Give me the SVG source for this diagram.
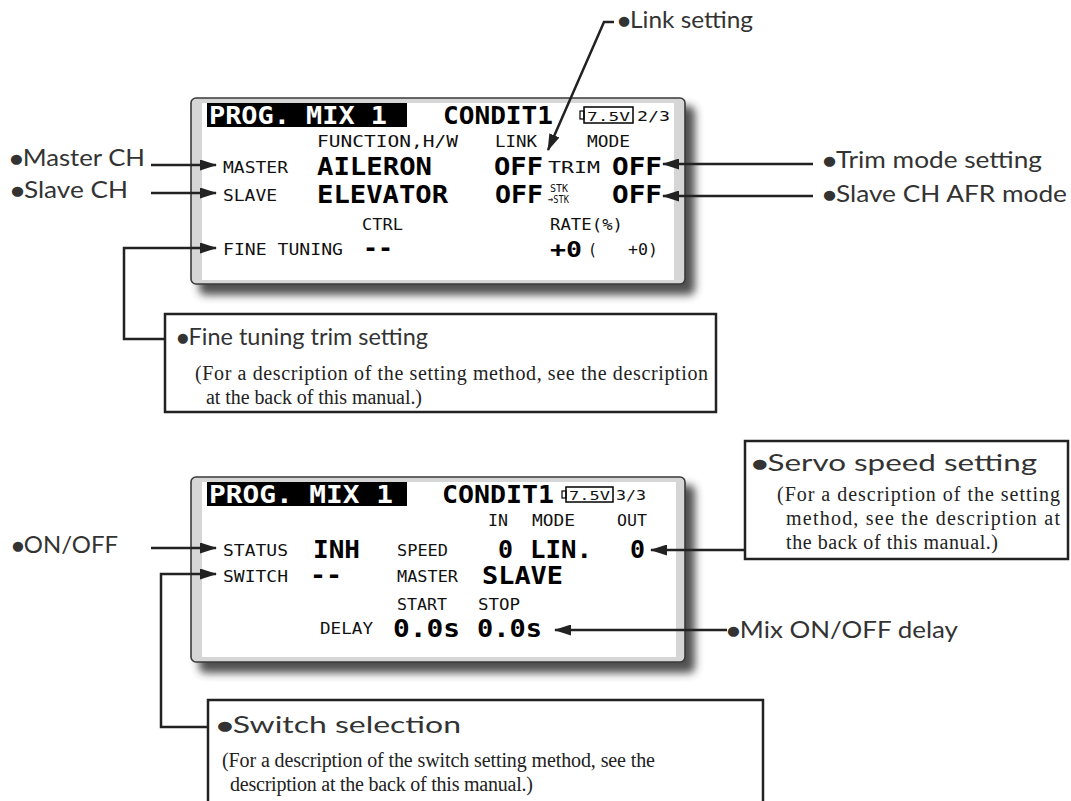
<svg xmlns="http://www.w3.org/2000/svg" width="1071" height="801" viewBox="0 0 1071 801">
<defs>
<filter id="blur" x="-10%" y="-20%" width="130%" height="150%"><feGaussianBlur stdDeviation="4"/></filter>
<marker id="ah" markerWidth="17" markerHeight="11" refX="16" refY="5.5" orient="auto" markerUnits="userSpaceOnUse"><path d="M0,0 L17,5.5 L0,11 z" fill="#222"/></marker>
<style>
.shadow{fill:#333;opacity:0.85}
.frame{fill:#d6d6d6;stroke:#3a3a3a;stroke-width:1.6}
.lcd{fill:#fff}
.s{font-family:"DejaVu Sans Mono","Liberation Mono",monospace;font-size:15px;fill:#111}
.b{font-family:"DejaVu Sans Mono","Liberation Mono",monospace;font-size:24px;font-weight:bold;fill:#000}
.h{font-family:"DejaVu Sans Mono","Liberation Mono",monospace;font-size:25px;font-weight:bold;fill:#000}
.lab{font-family:Lato,"Open Sans","DejaVu Sans",sans-serif;font-size:23px;fill:#333}
.dot{font-family:"DejaVu Sans",sans-serif;font-size:13px}
.ser{font-family:"Liberation Serif","Times New Roman",serif;font-size:20px;fill:#222}
.box{fill:#fff;stroke:#222;stroke-width:2.5}
.con{fill:none;stroke:#222;stroke-width:2.5}
</style>
</defs>

<g id="screen1">
<rect class="shadow" x="199" y="106" width="496" height="189" rx="6" filter="url(#blur)"/>
<rect class="frame" x="191" y="98" width="494" height="186" rx="5"/>
<rect class="lcd" x="202" y="103" width="472" height="177"/>
<rect x="207" y="103" width="200" height="24" fill="#000"/>
<text class="h" x="209" y="124" textLength="178" lengthAdjust="spacingAndGlyphs" style="fill:#fff">PROG. MIX 1</text>
<text class="h" x="443" y="124" textLength="110" lengthAdjust="spacingAndGlyphs">CONDIT1</text>
<rect x="584" y="107" width="49" height="16" fill="none" stroke="#000" stroke-width="1.5"/>
<rect x="580" y="111" width="4" height="8" fill="none" stroke="#000" stroke-width="1.2"/>
<text class="s" x="587" y="120.5" style="font-size:13px" textLength="43" lengthAdjust="spacingAndGlyphs">7.5V</text>
<text class="s" x="637" y="121" style="font-size:14px" textLength="33" lengthAdjust="spacingAndGlyphs">2/3</text>
<text class="s" x="317" y="147" textLength="141" lengthAdjust="spacingAndGlyphs">FUNCTION,H/W</text>
<text class="s" x="495" y="147" textLength="42" lengthAdjust="spacingAndGlyphs">LINK</text>
<text class="s" x="587" y="147" textLength="43" lengthAdjust="spacingAndGlyphs">MODE</text>
<text class="s" x="223" y="173" textLength="65" lengthAdjust="spacingAndGlyphs">MASTER</text>
<text class="b" x="317" y="175" textLength="115" lengthAdjust="spacingAndGlyphs">AILERON</text>
<text class="b" x="494" y="175" textLength="49" lengthAdjust="spacingAndGlyphs">OFF</text>
<text class="s" x="548" y="173" textLength="52" lengthAdjust="spacingAndGlyphs">TRIM</text>
<text class="b" x="612" y="175" textLength="50" lengthAdjust="spacingAndGlyphs">OFF</text>
<text class="s" x="223" y="201" textLength="54" lengthAdjust="spacingAndGlyphs">SLAVE</text>
<text class="b" x="317" y="203" textLength="131" lengthAdjust="spacingAndGlyphs">ELEVATOR</text>
<text class="b" x="495" y="203" textLength="48" lengthAdjust="spacingAndGlyphs">OFF</text>
<text class="s" x="550" y="192" style="font-size:11px" textLength="18" lengthAdjust="spacingAndGlyphs">STK</text>
<text class="s" x="548" y="203" style="font-size:11px" textLength="21" lengthAdjust="spacingAndGlyphs">→STK</text>
<text class="b" x="612" y="203" textLength="50" lengthAdjust="spacingAndGlyphs">OFF</text>
<text class="s" x="362" y="230" textLength="41" lengthAdjust="spacingAndGlyphs">CTRL</text>
<text class="s" x="550" y="230" textLength="73" lengthAdjust="spacingAndGlyphs">RATE(%)</text>
<text class="s" x="223" y="255" textLength="120" lengthAdjust="spacingAndGlyphs">FINE TUNING</text>
<text class="b" x="363" y="256" textLength="30" lengthAdjust="spacingAndGlyphs">--</text>
<text class="b" x="550" y="257" style="font-size:21px" textLength="32" lengthAdjust="spacingAndGlyphs">+0</text>
<text class="s" x="588" y="255">(</text>
<text class="s" x="628" y="255" textLength="30" lengthAdjust="spacingAndGlyphs">+0)</text>
</g>

<g id="screen2">
<rect class="shadow" x="199" y="485" width="496" height="188" rx="6" filter="url(#blur)"/>
<rect class="frame" x="191" y="477" width="494" height="185" rx="5"/>
<rect class="lcd" x="202" y="482" width="474" height="175"/>
<rect x="207" y="482" width="200" height="24" fill="#000"/>
<text class="h" x="209" y="503" textLength="184" lengthAdjust="spacingAndGlyphs" style="fill:#fff">PROG. MIX 1</text>
<text class="h" x="442" y="503" textLength="112" lengthAdjust="spacingAndGlyphs">CONDIT1</text>
<rect x="566" y="487" width="47" height="15" fill="none" stroke="#000" stroke-width="1.5"/>
<rect x="562" y="491" width="4" height="7" fill="none" stroke="#000" stroke-width="1.2"/>
<text class="s" x="569" y="499.5" style="font-size:13px" textLength="41" lengthAdjust="spacingAndGlyphs">7.5V</text>
<text class="s" x="616" y="500" style="font-size:14px" textLength="30" lengthAdjust="spacingAndGlyphs">3/3</text>
<text class="s" x="488" y="526" textLength="20" lengthAdjust="spacingAndGlyphs">IN</text>
<text class="s" x="532" y="526" textLength="43" lengthAdjust="spacingAndGlyphs">MODE</text>
<text class="s" x="617" y="526" textLength="30" lengthAdjust="spacingAndGlyphs">OUT</text>
<text class="s" x="223" y="556" textLength="65" lengthAdjust="spacingAndGlyphs">STATUS</text>
<text class="b" x="313" y="558" textLength="47" lengthAdjust="spacingAndGlyphs">INH</text>
<text class="s" x="397" y="556" textLength="51" lengthAdjust="spacingAndGlyphs">SPEED</text>
<text class="b" x="498" y="558" textLength="15" lengthAdjust="spacingAndGlyphs">0</text>
<text class="b" x="530" y="558" textLength="62" lengthAdjust="spacingAndGlyphs">LIN.</text>
<text class="b" x="630" y="558" textLength="15" lengthAdjust="spacingAndGlyphs">0</text>
<text class="s" x="223" y="582" textLength="65" lengthAdjust="spacingAndGlyphs">SWITCH</text>
<text class="b" x="310" y="583" textLength="32" lengthAdjust="spacingAndGlyphs">--</text>
<text class="s" x="397" y="582" textLength="61" lengthAdjust="spacingAndGlyphs">MASTER</text>
<text class="b" x="482" y="584" textLength="81" lengthAdjust="spacingAndGlyphs">SLAVE</text>
<text class="s" x="397" y="610" textLength="50" lengthAdjust="spacingAndGlyphs">START</text>
<text class="s" x="478" y="610" textLength="42" lengthAdjust="spacingAndGlyphs">STOP</text>
<text class="s" x="320" y="634" textLength="53" lengthAdjust="spacingAndGlyphs">DELAY</text>
<text class="b" x="393" y="637" textLength="67" lengthAdjust="spacingAndGlyphs">0.0s</text>
<text class="b" x="477" y="637" textLength="65" lengthAdjust="spacingAndGlyphs">0.0s</text>
</g>

<g id="connectors">
<path class="con" d="M614,22 H604 L548,150" marker-end="url(#ah)"/>
<path class="con" d="M151,165 H216" marker-end="url(#ah)"/>
<path class="con" d="M151,193 H216" marker-end="url(#ah)"/>
<path class="con" d="M813,164 H663" marker-end="url(#ah)"/>
<path class="con" d="M813,196 H663" marker-end="url(#ah)"/>
<path class="con" d="M165,339 H124 V248 H216" marker-end="url(#ah)"/>
<path class="con" d="M151,548 H216" marker-end="url(#ah)"/>
<path class="con" d="M208,727 H161 V574 H216" marker-end="url(#ah)"/>
<path class="con" d="M745,550 H651" marker-end="url(#ah)"/>
<path class="con" d="M727,630 H555" marker-end="url(#ah)"/>
</g>

<g id="link-label"><text class="lab" x="618" y="28" textLength="135" lengthAdjust="spacingAndGlyphs"><tspan class="dot" dy="-3">●</tspan><tspan dy="3">Link setting</tspan></text></g>
<g id="master-label"><text class="lab" x="10" y="166" textLength="135" lengthAdjust="spacingAndGlyphs"><tspan class="dot" dy="-3">●</tspan><tspan dy="3">Master CH</tspan></text></g>
<g id="slave-label"><text class="lab" x="11" y="198" textLength="117" lengthAdjust="spacingAndGlyphs"><tspan class="dot" dy="-3">●</tspan><tspan dy="3">Slave CH</tspan></text></g>
<g id="trim-label"><text class="lab" x="823" y="168" textLength="219" lengthAdjust="spacingAndGlyphs"><tspan class="dot" dy="-3">●</tspan><tspan dy="3">Trim mode setting</tspan></text></g>
<g id="afr-label"><text class="lab" x="823" y="202" textLength="244" lengthAdjust="spacingAndGlyphs"><tspan class="dot" dy="-3">●</tspan><tspan dy="3">Slave CH AFR mode</tspan></text></g>
<g id="onoff-label"><text class="lab" x="12" y="553" textLength="106" lengthAdjust="spacingAndGlyphs"><tspan class="dot" dy="-3">●</tspan><tspan dy="3">ON/OFF</tspan></text></g>
<g id="delay-label"><text class="lab" x="727" y="638" textLength="231" lengthAdjust="spacingAndGlyphs"><tspan class="dot" dy="-3">●</tspan><tspan dy="3">Mix ON/OFF delay</tspan></text></g>

<g id="fine-box">
<rect class="box" x="165" y="314" width="551" height="98"/>
<text class="lab" x="177" y="345" textLength="251" lengthAdjust="spacingAndGlyphs"><tspan class="dot" dy="-3">●</tspan><tspan dy="3">Fine tuning trim setting</tspan></text>
<text class="ser" x="195" y="380" textLength="513" lengthAdjust="spacing">(For a description of the setting method, see the description</text>
<text class="ser" x="206" y="404" textLength="216" lengthAdjust="spacing">at the back of this manual.)</text>
</g>

<g id="servo-box">
<rect class="box" x="745" y="441" width="323" height="118"/>
<text class="lab" x="752" y="471" textLength="285" lengthAdjust="spacingAndGlyphs"><tspan class="dot" dy="-3">●</tspan><tspan dy="3">Servo speed setting</tspan></text>
<text class="ser" x="777" y="501" textLength="283" lengthAdjust="spacing">(For a description of the setting</text>
<text class="ser" x="786" y="525" textLength="274" lengthAdjust="spacing">method, see the description at</text>
<text class="ser" x="786" y="549" textLength="212" lengthAdjust="spacing">the back of this manual.)</text>
</g>

<g id="switch-box">
<rect class="box" x="208" y="700" width="555" height="106"/>
<text class="lab" x="217" y="733" textLength="244" lengthAdjust="spacingAndGlyphs"><tspan class="dot" dy="-3">●</tspan><tspan dy="3">Switch selection</tspan></text>
<text class="ser" x="222" y="767" textLength="433" lengthAdjust="spacing">(For a description of the switch setting method, see the</text>
<text class="ser" x="230" y="791" textLength="303" lengthAdjust="spacing">description at the back of this manual.)</text>
</g>
</svg>
